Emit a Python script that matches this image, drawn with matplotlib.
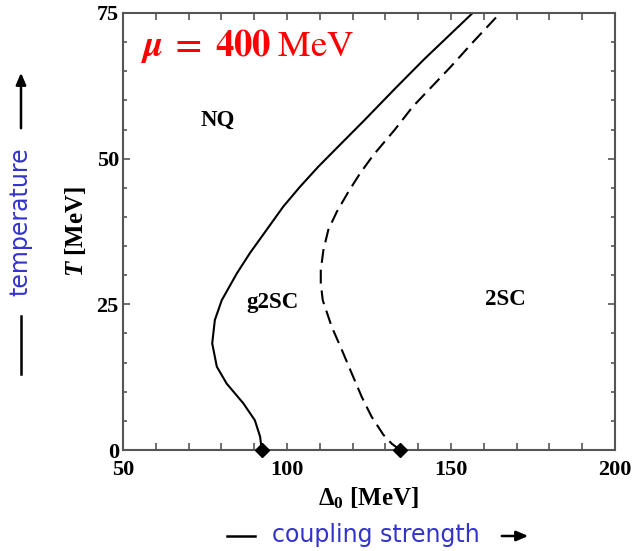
import matplotlib
matplotlib.use("Agg")
import matplotlib.pyplot as plt
from matplotlib.ticker import MultipleLocator

plt.rcParams['lines.scale_dashes'] = False
plt.rcParams['mathtext.fontset'] = 'custom'
plt.rcParams['mathtext.rm'] = 'Liberation Serif:bold'
plt.rcParams['mathtext.bf'] = 'Liberation Serif:bold'
plt.rcParams['mathtext.it'] = 'Liberation Serif:bold:italic'

# ---- data ----
solid_T = [0, 2.3, 5.1, 8.0, 11.4, 14.3, 18.3, 22.3, 25.7, 30.3, 33.8, 37.8,
           41.8, 45.2, 48.6, 51.5, 56.6, 62.0, 67.0, 75.0]
solid_D = [92.3, 91.8, 90.2, 86.7, 81.6, 78.6, 77.2, 78.0, 80.1, 84.7, 88.7, 93.8,
           98.9, 104.0, 109.5, 114.6, 123.6, 132.9, 141.7, 156.6]

dash_T = [0, 1.1, 2.6, 5.7, 9.1, 13.2, 17.2, 21.2, 25.7, 28.6, 30.9, 34.3, 37.8,
          40.9, 44.3, 47.5, 50.6, 55.0, 58.9, 65.7, 70.0, 75.0]
dash_D = [134.5, 131.9, 129.4, 125.8, 122.8, 119.7, 116.7, 113.6, 110.9, 110.3,
          110.3, 111.1, 112.6, 115.2, 118.7, 122.3, 126.3, 132.9, 138.3, 149.8,
          156.7, 165.0]

endpoints_D = [92.3, 134.5]
endpoints_T = [0, 0]

regions = ["NQ", "g2SC", "2SC"]
region_D = [79, 95.5, 166.5]
region_T = [56.5, 25.3, 25.8]

xticks = list(range(50, 201, 10))
xticklabels = [str(v) if v % 50 == 0 else "" for v in xticks]
yticks = [0, 25, 50, 75]
yticklabels = ["0", "25", "50", "75"]

blue = "#3333CC"

fig = plt.figure(figsize=(6.37, 5.51), dpi=100)
ax = fig.add_axes([123/637, 1 - 450/551, (615-123)/637, (450-13)/551])

ax.plot(solid_D, solid_T, color="black", lw=1.5)
ax.plot(dash_D, dash_T, color="black", lw=1.5, linestyle=(0, (10, 5)))
ax.plot(endpoints_D, endpoints_T, linestyle="none", marker="D", color="black",
        markersize=7, clip_on=False, zorder=5)

for name, d, t in zip(regions, region_D, region_T):
    ax.text(d, t, name, ha="center", va="center", fontsize=16.5,
            fontfamily="Liberation Serif", fontweight="bold")

ax.text(0.035, 0.925,
        r"$\mathbfit{\mu}\;\mathbf{=}\;\mathbf{400}\;\mathrm{MeV}$",
        transform=ax.transAxes, color="red", fontsize=26.5, ha="left",
        va="center", math_fontfamily="stix")

ax.set_xlim(50, 200)
ax.set_ylim(0, 75)
ax.set_xticks(xticks)
ax.set_xticklabels(xticklabels)
ax.set_yticks(yticks)
ax.set_yticklabels(yticklabels)
ax.yaxis.set_minor_locator(MultipleLocator(5))

ax.tick_params(which="both", direction="in", top=True, right=True,
               colors="#555555", width=1.2, labelcolor="black")
ax.tick_params(which="major", length=5, labelsize=16)
ax.tick_params(axis="x", which="major", pad=7)
ax.tick_params(axis="y", which="major", pad=3)
ax.tick_params(which="minor", length=3)
for lab in ax.get_xticklabels() + ax.get_yticklabels():
    lab.set_fontfamily("Liberation Serif")
    lab.set_fontweight("bold")

for s in ax.spines.values():
    s.set_color("#555555")
    s.set_linewidth(1.5)

ax.set_xlabel(r"$\Delta$$_{0}$ [MeV]", fontsize=18, fontfamily="Liberation Serif",
              fontweight="bold", labelpad=4)
ax.set_ylabel(r"$T$ [MeV]", fontsize=18, fontfamily="Liberation Serif",
              fontweight="bold", labelpad=6)

# outer annotations
fig.text(20/637, 1 - 222/551, "temperature", rotation=90, color=blue,
         fontsize=17, fontfamily="DejaVu Sans", ha="center", va="center")
fig.add_artist(plt.Line2D([21/637, 21/637], [1 - 374/551, 1 - 316/551],
                          color="black", lw=1.8))
ax.annotate("", xy=(21/637, 1 - 70/551), xytext=(21/637, 1 - 131/551),
            xycoords="figure fraction", textcoords="figure fraction",
            arrowprops=dict(arrowstyle="-|>,head_length=0.7,head_width=0.3",
                            color="black", lw=1.8))
fig.text(376/637, 1 - 535/551, "coupling strength", color=blue,
         fontsize=17, fontfamily="DejaVu Sans", ha="center", va="center")
fig.add_artist(plt.Line2D([227/637, 255/637], [1 - 536/551, 1 - 536/551],
                          color="black", lw=1.8))
ax.annotate("", xy=(531/637, 1 - 536/551), xytext=(499/637, 1 - 536/551),
            xycoords="figure fraction", textcoords="figure fraction",
            arrowprops=dict(arrowstyle="-|>,head_length=0.7,head_width=0.3",
                            color="black", lw=1.8))

fig.savefig("out.png", dpi=100)
